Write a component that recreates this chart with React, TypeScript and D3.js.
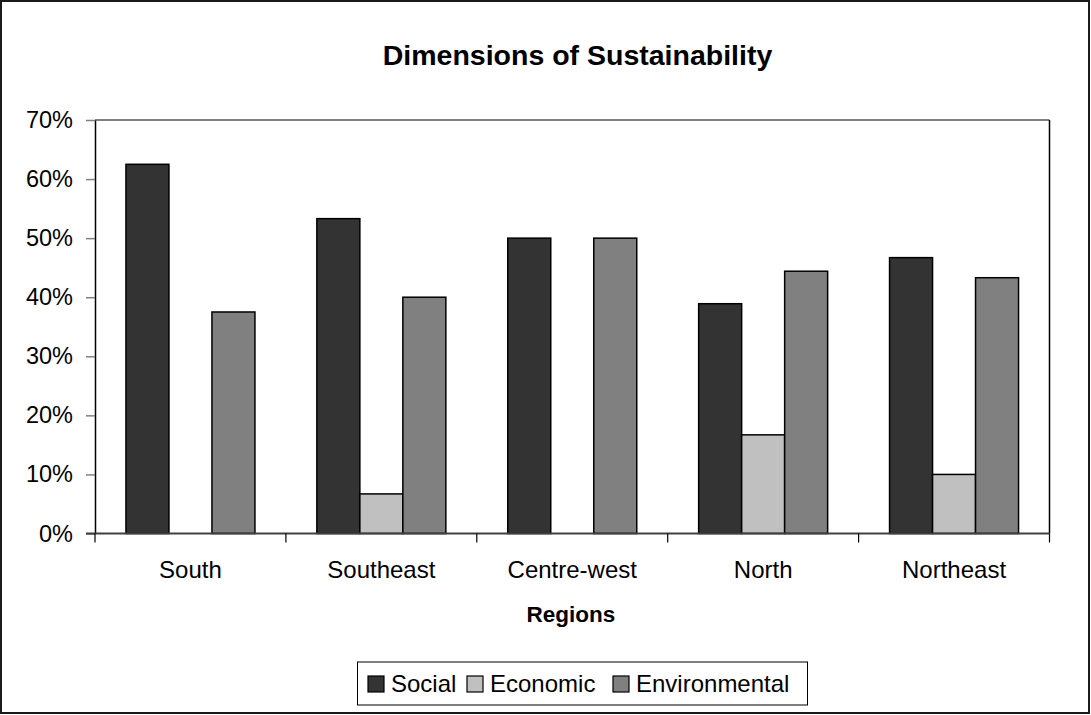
import { useEffect, useRef } from "react";
import * as d3 from "d3";

const regions = ["South", "Southeast", "Centre-west", "North", "Northeast"];
const seriesNames = ["Social", "Economic", "Environmental"];
const social = [62.5, 53.3, 50, 38.9, 46.7];
const economic = [0, 6.7, 0, 16.7, 10];
const environmental = [37.5, 40, 50, 44.4, 43.3];
const yTicks = [0, 10, 20, 30, 40, 50, 60, 70];
const colors = ["#333333", "#c0c0c0", "#808080"];

const W = 1091;
const H = 715;
const FONT = "'Liberation Sans', Arial, sans-serif";

const App = () => {
  const ref = useRef<SVGSVGElement | null>(null);

  useEffect(() => {
    drawChart();
  }, []);

  const drawChart = () => {
    const svg = d3.select(ref.current);
    svg.selectAll("*").remove();

    const plot = { left: 95, right: 1049.5, top: 120, bottom: 533.5 };
    const values = [social, economic, environmental];

    // outer frame
    svg
      .append("rect")
      .attr("x", 1)
      .attr("y", 1)
      .attr("width", W - 3)
      .attr("height", H - 3)
      .attr("fill", "#fff")
      .attr("stroke", "#1a1a1a")
      .attr("stroke-width", 2);

    const x0 = d3.scaleBand().domain(regions).range([plot.left, plot.right]).padding(0);
    const x1 = d3.scaleBand().domain(seriesNames).range([0, x0.bandwidth()]).paddingInner(0).paddingOuter(0.72);
    const y = d3.scaleLinear().domain([0, 70]).range([plot.bottom, plot.top]);

    // plot area border (top gray, right dark)
    svg
      .append("line")
      .attr("x1", plot.left)
      .attr("x2", plot.right)
      .attr("y1", y(70))
      .attr("y2", y(70))
      .attr("stroke", "#808080")
      .attr("stroke-width", 2);
    svg
      .append("line")
      .attr("x1", plot.right)
      .attr("x2", plot.right)
      .attr("y1", y(70))
      .attr("y2", plot.bottom)
      .attr("stroke", "#000")
      .attr("stroke-width", 1.5);

    // bars
    const data = regions.flatMap((r, i) => seriesNames.map((s, j) => ({ r, s, j, v: values[j][i] })));
    svg
      .append("g")
      .selectAll("rect")
      .data(data.filter((d) => d.v > 0))
      .join("rect")
      .attr("x", (d) => x0(d.r)! + x1(d.s)!)
      .attr("width", x1.bandwidth())
      .attr("y", (d) => y(d.v))
      .attr("height", (d) => y(0) - y(d.v))
      .attr("fill", (d) => colors[d.j])
      .attr("stroke", "#000")
      .attr("stroke-width", 1.5);

    // y axis
    const yAxis = svg
      .append("g")
      .attr("transform", `translate(${plot.left},0)`)
      .call(
        d3
          .axisLeft(y)
          .tickValues(yTicks)
          .tickSize(9)
          .tickSizeOuter(0)
          .tickPadding(13)
          .tickFormat((d) => `${d}%`)
      );
    yAxis.select(".domain").attr("stroke", "#000").attr("stroke-width", 1.5);
    yAxis.selectAll(".tick line").attr("stroke", "#808080").attr("stroke-width", 1.5);
    yAxis
      .selectAll(".tick text")
      .attr("font-family", FONT)
      .attr("font-size", 23.5)
      .attr("fill", "#000");

    // x axis
    const xAxis = svg
      .append("g")
      .attr("transform", `translate(0,${plot.bottom})`)
      .call(d3.axisBottom(x0).tickSize(0).tickPadding(27));
    xAxis.select(".domain").remove();
    xAxis
      .selectAll(".tick text")
      .attr("font-family", FONT)
      .attr("font-size", 24)
      .attr("fill", "#000");

    // baseline and category separators
    svg
      .append("line")
      .attr("x1", plot.left - 9)
      .attr("x2", plot.right)
      .attr("y1", plot.bottom)
      .attr("y2", plot.bottom)
      .attr("stroke", "#404040")
      .attr("stroke-width", 2);
    const edges = regions.map((r) => x0(r)!).concat([plot.right]);
    svg
      .append("g")
      .selectAll("line")
      .data(edges)
      .join("line")
      .attr("x1", (d) => d)
      .attr("x2", (d) => d)
      .attr("y1", plot.bottom)
      .attr("y2", plot.bottom + 9)
      .attr("stroke", "#000")
      .attr("stroke-width", 1.2);

    // title
    svg
      .append("text")
      .attr("x", 577.5)
      .attr("y", 65)
      .attr("text-anchor", "middle")
      .attr("font-family", FONT)
      .attr("font-weight", "bold")
      .attr("font-size", 28.5)
      .text("Dimensions of Sustainability");

    // axis title
    svg
      .append("text")
      .attr("x", 571)
      .attr("y", 622)
      .attr("text-anchor", "middle")
      .attr("font-family", FONT)
      .attr("font-weight", "bold")
      .attr("font-size", 22.5)
      .text("Regions");

    // legend
    const legend = svg.append("g");
    legend
      .append("rect")
      .attr("x", 357.5)
      .attr("y", 662)
      .attr("width", 450)
      .attr("height", 43)
      .attr("fill", "#fff")
      .attr("stroke", "#000")
      .attr("stroke-width", 1);
    const itemX = [368, 467, 613];
    seriesNames.forEach((s, i) => {
      legend
        .append("rect")
        .attr("x", itemX[i])
        .attr("y", 676)
        .attr("width", 16)
        .attr("height", 16)
        .attr("fill", colors[i])
        .attr("stroke", "#000")
        .attr("stroke-width", 1.2);
      legend
        .append("text")
        .attr("x", itemX[i] + 23)
        .attr("y", 692)
        .attr("font-family", FONT)
        .attr("font-size", 24)
        .text(s);
    });
  };

  return (
    <svg
      ref={ref}
      width={W}
      height={H}
      style={{ position: "absolute", left: 0, top: 0, display: "block" }}
    />
  );
};

export default App;
